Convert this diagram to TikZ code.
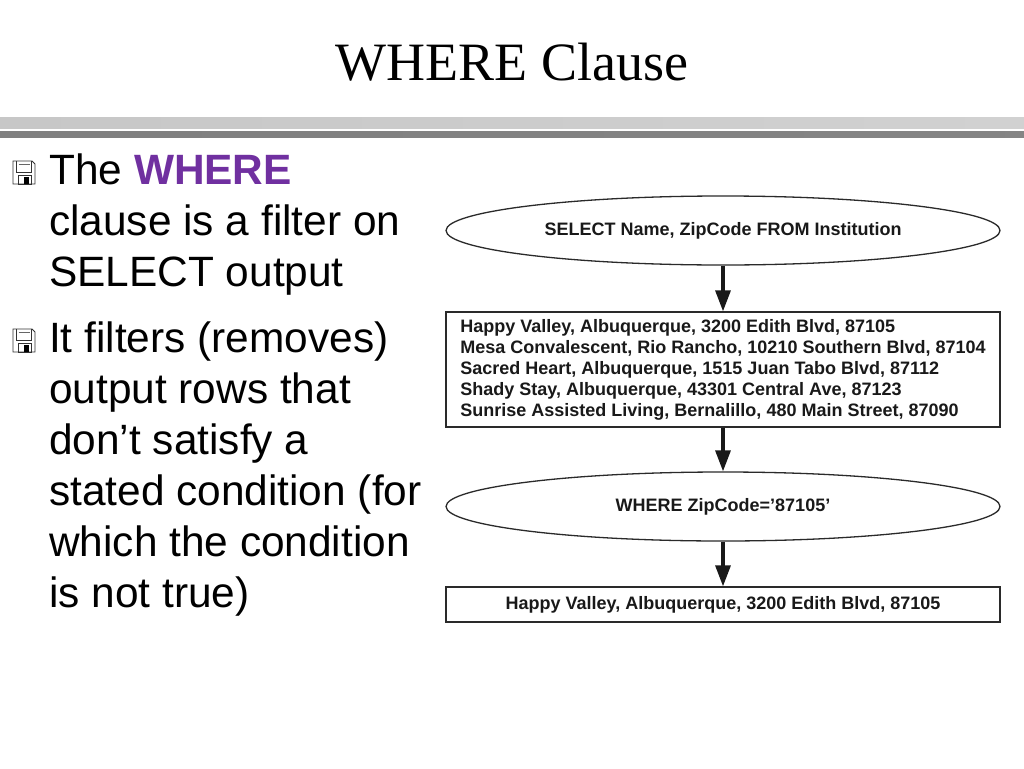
\documentclass[tikz,border=0pt]{standalone}
\usepackage{fontspec}
\setmainfont{Liberation Sans}
\newfontfamily\titlefont{Liberation Serif}
\usetikzlibrary{shapes.geometric,arrows.meta}
\definecolor{wpurple}{HTML}{7030A0}
\definecolor{edgegray}{HTML}{2A2A2A}
\tikzset{
  floppy/.pic={
    \draw[line width=0.8pt, black!80] (0,0) -- (19,0) -- (22,3) -- (22,23) -- (0,23) -- cycle;
    \draw[line width=0.8pt, black!80] (3.5,0) -- (3.5,11) -- (18.5,11) -- (18.5,0);
    \draw[line width=0.6pt, black!60] (5.5,3) -- (16.5,3);
    \draw[line width=0.8pt, black!80] (5,14.5) rectangle (18,23);
    \fill[black] (10.5,16) rectangle (16,23);
  }
}
\begin{document}
\begin{tikzpicture}[x=1pt,y=-1pt,
  flowell/.style={ellipse, draw=edgegray, line width=1.3pt, minimum width=554pt, minimum height=69pt, inner sep=0pt, font=\fontsize{18}{21}\selectfont\bfseries, text=black!90},
  flowbox/.style={rectangle, draw=edgegray, line width=1.3pt, minimum width=554pt, inner ysep=0pt, font=\fontsize{18}{21}\selectfont\bfseries, text=black!90},
  flowarrow/.style={line width=3.2pt, black!90, -{Triangle[length=21pt,width=15pt]}},
  bul/.style={anchor=base west, inner sep=0pt, font=\fontsize{42.4}{51}\selectfont}
]
\useasboundingbox (0,0) rectangle (1024,768);
\fill[white] (0,0) rectangle (1024,768);

% title
\node[anchor=base, inner sep=0pt, font=\titlefont\fontsize{54}{60}\selectfont] (title) at (512,81) {WHERE Clause};

% bars
\shade[left color=black!22, middle color=black!8, right color=black!18] (0,117) rectangle (1024,128);
\shade[left color=black!50, middle color=black!20, right color=black!48] (0,131) rectangle (1024,137);

% bullets
\pic at (13,161) {floppy};
\pic at (13,329) {floppy};

\node[bul] (t1) at (49,184) {The {\bfseries\color{wpurple}WHERE}};
\node[bul] (t2) at (49,235) {clause is a filter on};
\node[bul] (t3) at (49,286) {SELECT output};
\node[bul] (t4) at (49,352) {It filters (removes)};
\node[bul] (t5) at (49,403) {output rows that};
\node[bul] (t6) at (49,454) {don’t satisfy a};
\node[bul] (t7) at (49,505) {stated condition (for};
\node[bul] (t8) at (49,556) {which the condition};
\node[bul] (t9) at (49,607) {is not true)};

% flow diagram
\node[flowell] (e1) at (723,230.5) {SELECT Name, ZipCode FROM Institution};
\node[flowbox, align=left, minimum height=115pt] (b1) at (723,369.5)
  {Happy Valley, Albuquerque, 3200 Edith Blvd, 87105\\
   Mesa Convalescent, Rio Rancho, 10210 Southern Blvd, 87104\\
   Sacred Heart, Albuquerque, 1515 Juan Tabo Blvd, 87112\\
   Shady Stay, Albuquerque, 43301 Central Ave, 87123\\
   Sunrise Assisted Living, Bernalillo, 480 Main Street, 87090};
\node[flowell] (e2) at (723,506.5) {WHERE ZipCode=’87105’};
\node[flowbox, minimum height=35pt] (b2) at (723,604.5) {Happy Valley, Albuquerque, 3200 Edith Blvd, 87105};

\draw[flowarrow] (e1.south) -- (b1.north);
\draw[flowarrow] (b1.south) -- (e2.north);
\draw[flowarrow] (e2.south) -- (b2.north);
\end{tikzpicture}
\end{document}
